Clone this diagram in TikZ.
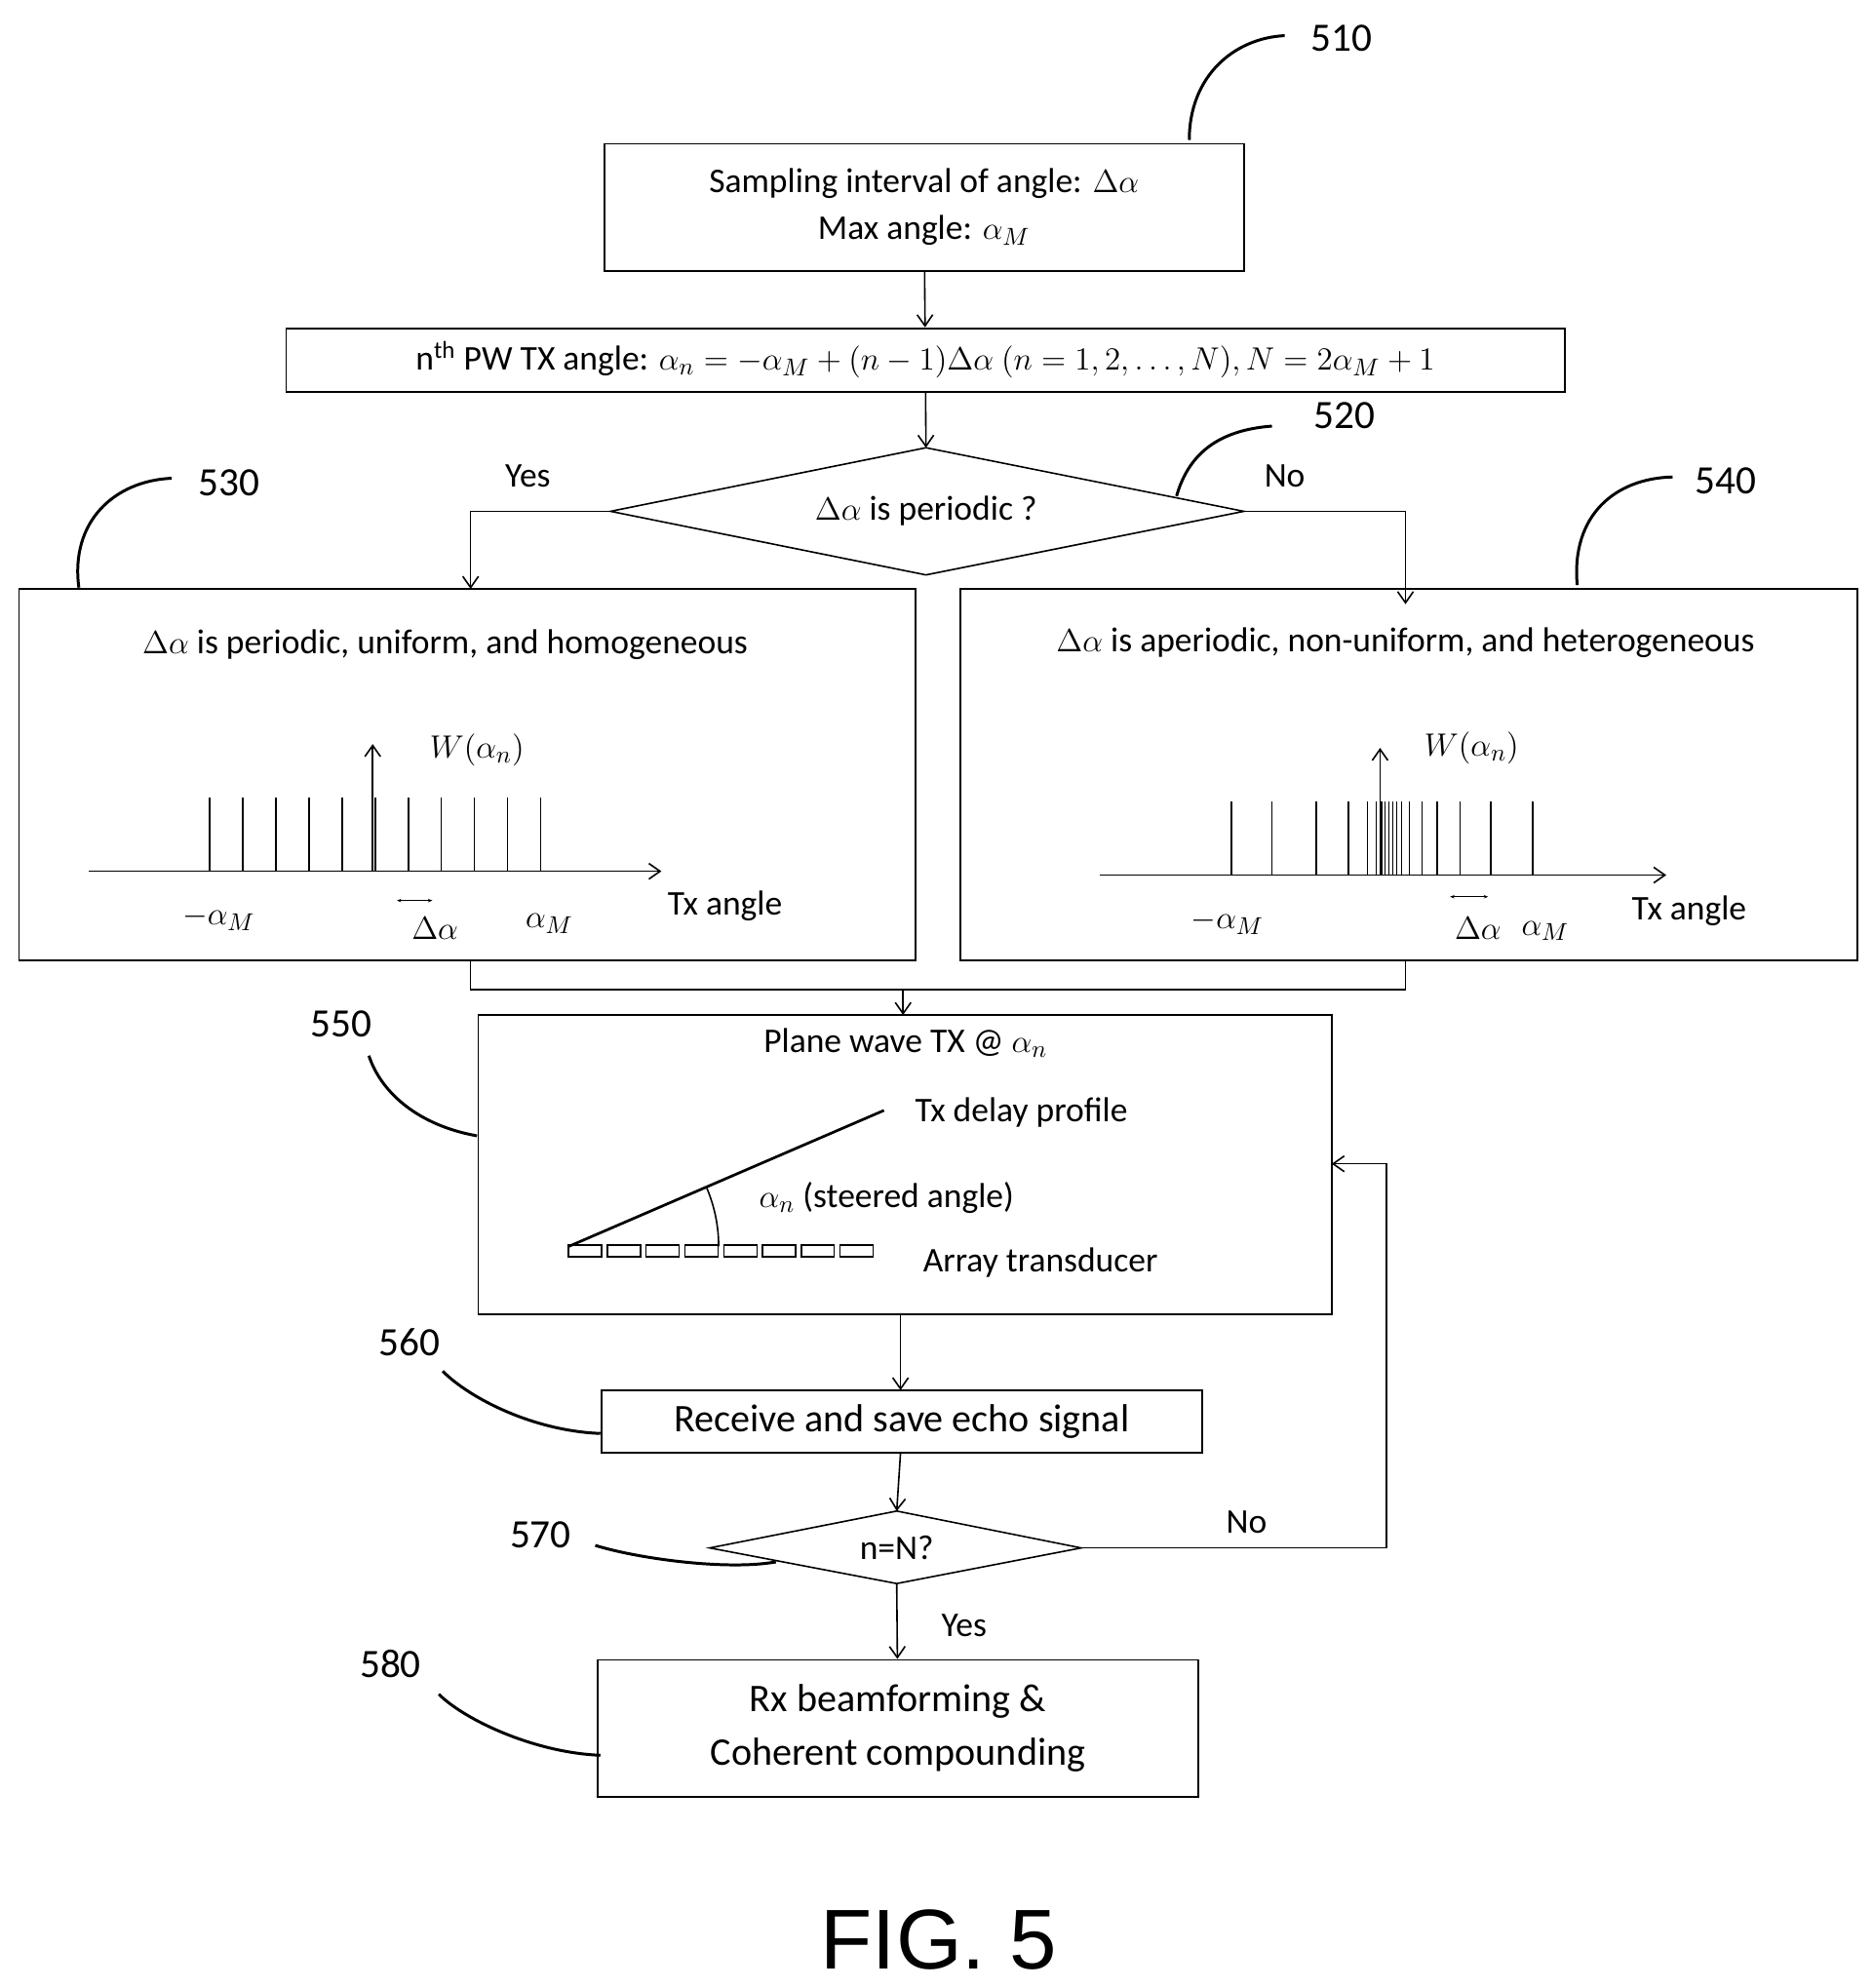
\documentclass[tikz,border=0pt]{standalone}
\usepackage{fontspec}
\setmainfont{Carlito}
\newfontfamily\figfont{Liberation Sans}
\usetikzlibrary{shapes.geometric,arrows.meta}
\begin{document}
\begin{tikzpicture}[x=0.02cm,y=-0.02cm,
  box/.style={draw,line width=0.8pt},
  arr/.style={-{Straight Barb[length=5pt,width=7pt]},line width=0.7pt},
  ln/.style={line width=0.7pt},
  lbl/.style={font=\fontsize{18}{20}\selectfont},
  txt/.style={font=\fontsize{15.5}{17}\selectfont},
  cv/.style={line width=1.3pt}]
\useasboundingbox (0,0) rectangle (1472,1563);
% 510
\node[box,minimum width=503*0.02cm,minimum height=100*0.02cm,align=center,txt] (b510) at (726.5,163) {Sampling interval of angle: $\Delta\alpha$\\[4pt] Max angle: $\alpha_M$};
\node[lbl] (l510) at (1055,30) {510};
\draw[cv] (935,110) .. controls (935,60) and (970,30) .. (1010,28);
% angle box
\node[box,minimum width=1005*0.02cm,minimum height=50*0.02cm,txt] (bang) at (727.5,283) {n\textsuperscript{th} PW TX angle: $\alpha_n=-\alpha_M+(n-1)\Delta\alpha\ (n=1,2,\ldots,N), N=2\alpha_M+1$};
\draw[arr] (b510) -- (bang);
% diamond 520
\coordinate (dT) at (728,352); \coordinate (dL) at (480,402); \coordinate (dR) at (978,402); \coordinate (dB) at (728,452);
\draw[ln] (dT)--(dR)--(dB)--(dL)--cycle;
\node[txt] (d520) at (728,402) {$\Delta\alpha$ is periodic ?};
\draw[arr] (bang) -- (dT);
\node[lbl] (l520) at (1057,327) {520};
\draw[cv] (925,390) .. controls (935,355) and (960,338) .. (1000,335);
\node[txt] (yes1) at (415,374) {Yes};
\node[txt] (no1) at (1010,374) {No};
% boxes 530 540
\node[box,minimum width=705*0.02cm,minimum height=292*0.02cm] (b530) at (367.5,609) {};
\node[box,minimum width=705*0.02cm,minimum height=292*0.02cm] (b540) at (1107.5,609) {};
\draw[arr] (dL) -- (370,402) -- (370,463);
\draw[arr] (dR) -- (1105,402) -- (1105,475);
\node[lbl] (l530) at (180,380) {530};
\draw[cv] (62,462) .. controls (55,410) and (90,378) .. (135,376);
\node[lbl] (l540) at (1357,378) {540};
\draw[cv] (1240,460) .. controls (1235,405) and (1270,376) .. (1315,375);
\node[txt] (t530) at (350,507) {$\Delta\alpha$ is periodic, uniform, and homogeneous};
\node[txt] (t540) at (1105,505) {$\Delta\alpha$ is aperiodic, non-uniform, and heterogeneous};
% plot 530
\draw[arr] (70,685) -- (520,685);
\foreach \x in {165,191,217,243,269,295,321,347,373,399,425} \draw[ln] (\x,685)--(\x,627);
\draw[arr] (293,685) -- (293,585);
\node[txt] at (375,590) {$W(\alpha_n)$};
\node[txt] at (172,722) {$-\alpha_M$};
\node[txt] at (342,730) {$\Delta\alpha$};
\draw[{Stealth[length=2pt]}-{Stealth[length=2pt]},line width=0.4pt] (312,708)--(340,708);
\node[txt] at (432,726) {$\alpha_M$};
\node[txt] at (570,712) {Tx angle};
% plot 540
\draw[arr] (865,688) -- (1310,688);
\foreach \x in {968,1000,1035,1060,1075,1082,1086,1089,1092,1095,1098,1102,1108,1118,1130,1148,1172,1205} \draw[ln] (\x,688)--(\x,630);
\draw[arr] (1085,688) -- (1085,588);
\node[txt] at (1157,588) {$W(\alpha_n)$};
\node[txt] at (965,725) {$-\alpha_M$};
\node[txt] at (1162,730) {$\Delta\alpha$};
\draw[{Stealth[length=2pt]}-{Stealth[length=2pt]},line width=0.4pt] (1140,705)--(1170,705);
\node[txt] at (1215,732) {$\alpha_M$};
\node[txt] at (1328,716) {Tx angle};
% merge
\node[box,minimum width=671*0.02cm,minimum height=235*0.02cm] (b550) at (711.5,915.5) {};
\draw[ln] (370,755) -- (370,778) -- (1105,778) -- (1105,755);
\draw[arr] (710,778) -- (710,798);
\node[lbl] (l550) at (268,805) {550};
\draw[cv] (375,893) .. controls (330,885) and (300,860) .. (290,830);
\node[txt] at (712,820) {Plane wave TX @ $\alpha_n$};
\draw[line width=1.2pt] (447,980) -- (695,873);
\node[txt] at (803,875) {Tx delay profile};
\draw[ln] (565,980) arc (0:-23:118);
\node[txt] at (697,942) {$\alpha_n$ (steered angle)};
\foreach \i in {0,...,7} \draw[line width=0.6pt] (447+\i*30.5,979) rectangle ++(26,9);
\node[txt] at (818,993) {Array transducer};
% 560
\node[box,minimum width=472*0.02cm,minimum height=49*0.02cm,font=\fontsize{17.5}{19}\selectfont] (b560) at (709,1117.5) {Receive and save echo signal};
\draw[arr] (708,1033) -- (708,1093);
\node[lbl] (l560) at (322,1055) {560};
\draw[cv] (472,1127) .. controls (420,1125) and (370,1100) .. (348,1078);
% 570
\coordinate (eT) at (705,1188); \coordinate (eL) at (558,1217); \coordinate (eR) at (850,1217); \coordinate (eB) at (705,1245);
\draw[ln] (eT)--(eR)--(eB)--(eL)--cycle;
\node[txt] (d570) at (705,1217) {n=N?};
\draw[arr] (708,1142) -- (eT);
\node[lbl] (l570) at (425,1207) {570};
\draw[cv] (610,1228) .. controls (570,1235) and (500,1225) .. (468,1215);
\node[txt] (no2) at (980,1197) {No};
\draw[arr] (eR) -- (1090,1217) -- (1090,915) -- (1047,915);
\node[txt] (yes2) at (758,1278) {Yes};
% 580
\node[box,minimum width=472*0.02cm,minimum height=108*0.02cm,align=center,font=\fontsize{17.5}{24}\selectfont] (b580) at (706,1359) {Rx beamforming \&\\ Coherent compounding};
\draw[arr] (eB) -- (b580);
\node[lbl] (l580) at (307,1308) {580};
\draw[cv] (472,1380) .. controls (420,1378) and (365,1352) .. (345,1332);
\node[font=\figfont\fontsize{38}{40}\selectfont] (fig) at (738,1525) {FIG. 5};
\end{tikzpicture}
\end{document}
